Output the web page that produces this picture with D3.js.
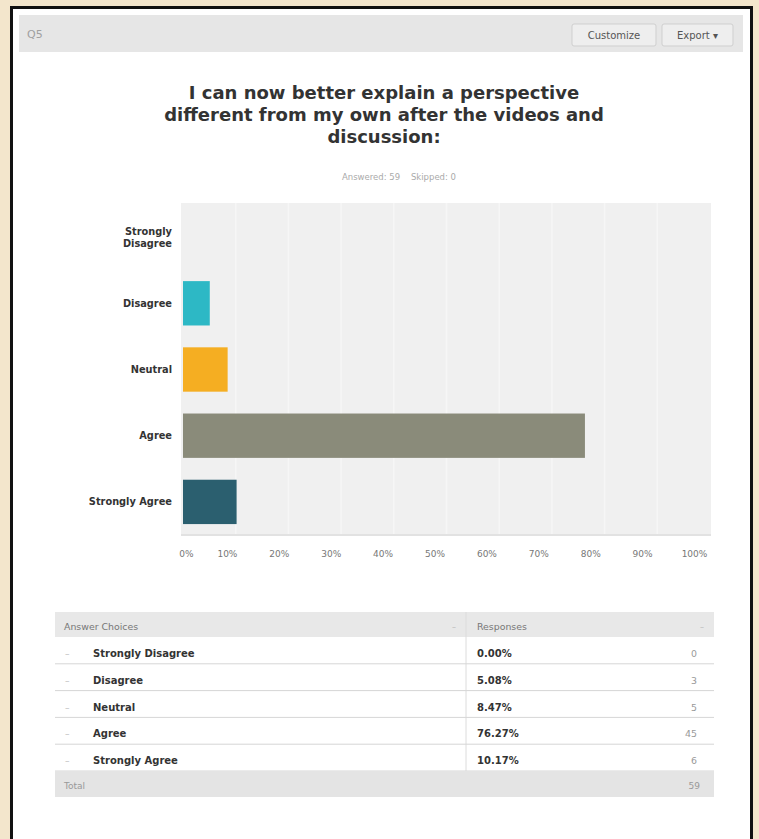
<!DOCTYPE html>
<html><head><meta charset="utf-8">
<script src="https://cdn.jsdelivr.net/npm/d3@7"></script>
<style>body{margin:0;background:#f3e6cc;font-family:"DejaVu Sans",Arial,sans-serif;}svg{display:block}</style>
</head><body>
<svg id="c" width="759" height="839"></svg>
<script>
const categories = ["Strongly Disagree","Disagree","Neutral","Agree","Strongly Agree"];
const percents = [0.00, 5.08, 8.47, 76.27, 10.17];
const counts = [0, 3, 5, 45, 6];
const colors = ["#2a8fbd","#2db8c5","#f5ae22","#8a8b7a","#2b5f6f"];
const tickValues = [0,10,20,30,40,50,60,70,80,90,100];
const title = ["I can now better explain a perspective","different from my own after the videos and","discussion:"];
const total = 59, skipped = 0;

const svg = d3.select("#c");
// frame
svg.append("rect").attr("x",13).attr("y",8).attr("width",737).attr("height",840).attr("fill","#fff");
svg.append("path").attr("d","M11.5,850 V7.5 H751.5 V850").attr("fill","none").attr("stroke","#111").attr("stroke-width",3);
// header bar
svg.append("rect").attr("x",19).attr("y",15).attr("width",724).attr("height",37).attr("fill","#e6e6e6");
svg.append("text").attr("x",27).attr("y",38).attr("font-size",11).attr("fill","#a0a0a0").text("Q5");
[["Customize",572,84],["Export \u25BE",662,71]].forEach(([t,x,w])=>{
  svg.append("rect").attr("x",x).attr("y",24).attr("width",w).attr("height",22).attr("rx",2).attr("fill","#eeeeee").attr("stroke","#cfcfcf");
  svg.append("text").attr("x",x+w/2).attr("y",39).attr("text-anchor","middle").attr("font-size",10).attr("fill","#555").text(t);
});
// title
svg.selectAll("text.title").data(title).join("text").attr("class","title")
  .attr("x",384).attr("y",(d,i)=>99+i*22).attr("text-anchor","middle")
  .attr("font-size",18).attr("font-weight","bold").attr("fill","#333").text(d=>d);
svg.append("text").attr("x",399).attr("y",180).attr("text-anchor","middle").attr("font-size",8.5).attr("fill","#aaa")
  .attr("xml:space","preserve").text(`Answered: ${total}    Skipped: ${skipped}`);

// chart
const x = d3.scaleLinear().domain([0,100]).range([183,710]);
const xLab = d3.scaleLinear().domain([0,100]).range([175,694]);
const y = d3.scaleBand().domain(categories).range([204,535]).paddingInner(0.33).paddingOuter(0.165);
svg.append("rect").attr("x",181).attr("y",203).attr("width",530).attr("height",332).attr("fill","#f0f0f0");
svg.append("g").selectAll("line").data(tickValues.slice(1,10)).join("line")
  .attr("x1",d=>x(d)).attr("x2",d=>x(d)).attr("y1",203).attr("y2",535).attr("stroke","#f6f6f6").attr("stroke-width",1.5);
svg.append("line").attr("x1",181).attr("x2",711).attr("y1",535).attr("y2",535).attr("stroke","#e2e2e2").attr("stroke-width",2);
svg.append("g").selectAll("rect").data(categories).join("rect")
  .attr("x",x(0)).attr("y",d=>y(d)).attr("height",y.bandwidth())
  .attr("width",(d,i)=>x(percents[i])-x(0)).attr("fill",(d,i)=>colors[i]);
// y labels
const yl = svg.append("g");
categories.forEach((c,i)=>{
  const cy = y(c)+y.bandwidth()/2;
  const lines = c==="Strongly Disagree" ? ["Strongly","Disagree"] : [c];
  lines.forEach((l,j)=>{
    yl.append("text").attr("x",172).attr("y",cy+3.5+(j-(lines.length-1)/2)*12)
      .attr("text-anchor","end").attr("font-size",9.8).attr("font-weight","bold").attr("fill","#333").text(l);
  });
});
// x axis
const xa = svg.append("g").attr("transform","translate(0,535)")
  .call(d3.axisBottom(xLab).tickValues(tickValues).tickFormat(d=>d+"%").tickSize(0).tickPadding(16));
xa.select(".domain").remove();
xa.selectAll("text").attr("font-size",9).attr("fill","#777").attr("font-family","'DejaVu Sans',Arial,sans-serif")
  .attr("dx",d=>d===0?11:0);

// table
const tx0 = 55, tx1 = 714, tDiv = 466;
const rowH = 26.8, headY = 612, headH = 25;
svg.append("rect").attr("x",tx0).attr("y",headY).attr("width",tx1-tx0).attr("height",headH).attr("fill","#e8e8e8");
svg.append("text").attr("x",64).attr("y",headY+18).attr("font-size",9.4).attr("fill","#777").text("Answer Choices");
svg.append("text").attr("x",477).attr("y",headY+18).attr("font-size",9.4).attr("fill","#777").text("Responses");
svg.append("text").attr("x",452).attr("y",headY+18).attr("font-size",8).attr("fill","#bbb").text("\u2013");
svg.append("text").attr("x",700).attr("y",headY+18).attr("font-size",8).attr("fill","#bbb").text("\u2013");
svg.append("line").attr("x1",tDiv).attr("x2",tDiv).attr("y1",headY).attr("y2",headY+headH+rowH*5).attr("stroke","#dcdcdc");
const rows = svg.append("g").selectAll("g").data(categories).join("g")
  .attr("transform",(d,i)=>`translate(0,${headY+headH+i*rowH})`);
rows.append("line").attr("x1",tx0).attr("x2",tx1).attr("y1",rowH).attr("y2",rowH).attr("stroke","#d6d6d6");
rows.append("text").attr("x",65).attr("y",20).attr("font-size",9).attr("fill","#bbb").text("\u2013");
rows.append("text").attr("x",93).attr("y",20).attr("font-size",10).attr("font-weight","bold").attr("fill","#333").text(d=>d);
rows.append("text").attr("x",477).attr("y",20).attr("font-size",10).attr("font-weight","bold").attr("fill","#333").text((d,i)=>percents[i].toFixed(2)+"%");
rows.append("text").attr("x",697).attr("y",20).attr("text-anchor","end").attr("font-size",9.4).attr("fill","#999").text((d,i)=>counts[i]);
const ty = headY+headH+rowH*5;
svg.append("rect").attr("x",tx0).attr("y",ty).attr("width",tx1-tx0).attr("height",26).attr("fill","#e4e4e4");
svg.append("text").attr("x",64).attr("y",ty+18).attr("font-size",9).attr("fill","#999").text("Total");
svg.append("text").attr("x",700).attr("y",ty+18).attr("text-anchor","end").attr("font-size",9).attr("fill","#999").text(d3.sum(counts));
</script>
</body></html>
